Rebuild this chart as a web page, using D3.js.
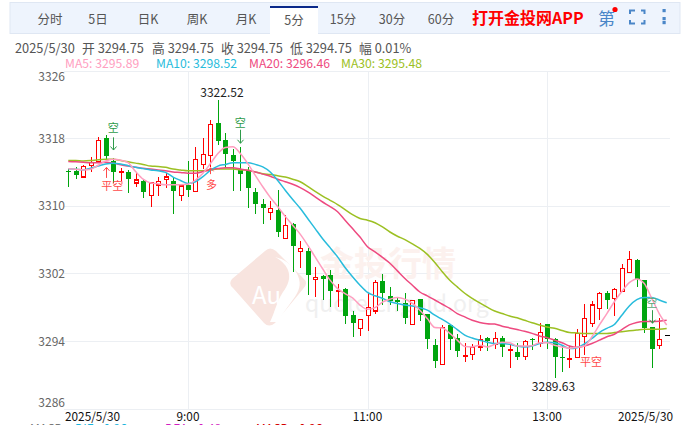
<!DOCTYPE html>
<html><head><meta charset="utf-8">
<style>html,body{margin:0;padding:0;background:#fff;overflow:hidden}svg{display:block}text{font-family:"Noto Sans CJK SC","Noto Sans",sans-serif}</style>
<script src="https://cdn.jsdelivr.net/npm/d3@7/dist/d3.min.js"></script>
</head><body><svg id="c" width="687" height="425"></svg>
<script>
const tabs=["分时","5日","日K","周K","月K","5分","15分","30分","60分"];
const yTicks=[3326,3318,3310,3302,3294,3286];
const xTickIndex=[0,16,40,64,79];
const xTickLabels=["2025/5/30","9:00","11:00","13:00","2025/5/30"];
const infoLabels=["2025/5/30","开 3294.75","高 3294.75","收 3294.75","低 3294.75","幅 0.01%"];
const maLabels=["MA5: 3295.89","MA10: 3298.52","MA20: 3296.46","MA30: 3295.48"];
const maColors=["#ff9ebf","#28bcdc","#ee4a80","#9cc023"];
const opens=[3314.17,3314.1,3313.4,3314.8,3315.24,3318,3315.35,3314.1,3314.0,3312.7,3312.9,3311.2,3312.45,3313.1,3312.9,3311.2,3312.5,3311.65,3314.9,3315.95,
3319.8,3317.75,3316,3314.3,3314.1,3311.6,3310.2,3309.2,3309.55,3306.1,3307.9,3304.55,3304.6,3301.25,3301.7,3301.8,3300,3300.2,3297.05,3295.5,
3297,3297.55,3301.1,3299.3,3298.9,3298.5,3295.95,3298.95,3297.15,3293.5,3291.25,3295.9,3294.35,3292.3,3292.4,3293.3,3294.35,3293.6,3294.4,3292.95,
3292.7,3292.15,3294.25,3293.7,3296,3294.2,3292.1,3291.95,3292,3294.5,3296.1,3297.85,3299.7,3299,3299.85,3302.1,3303.6,3301.2,3295.65,3293.5,3294.75];
const closes=[3314.0,3313.66,3314.65,3315.1,3317.76,3315.95,3314.05,3314.1,3313.2,3313.05,3311.65,3312.7,3312.9,3313.4,3311.8,3312.35,3311.9,3315.5,3316.1,3319.65,
3317.7,3316.1,3315.3,3313.8,3312.1,3310.25,3309.75,3309.65,3306.9,3307.65,3305.25,3304.95,3301.8,3301.5,3301.3,3299.9,3300,3297,3296.1,3296.55,
3297.95,3300.95,3299.65,3298.75,3298.6,3296.75,3298.75,3297.05,3294.2,3291.65,3295.6,3294.2,3292.8,3292.3,3293.2,3294.15,3293.95,3294.3,3293.3,3292.95,
3292.15,3293.95,3294.1,3295,3294.2,3292.05,3292.05,3291.95,3294.9,3296.65,3298.25,3299.65,3298.85,3300.1,3302.6,3303.65,3301.35,3295.55,3293.1,3294.2,3294.75];
const highs=[3314.3,3314.65,3314.8,3315.75,3318.1,3318.4,3315.6,3314.45,3314.25,3313.95,3313.15,3312.7,3313.4,3313.85,3313.4,3312.45,3315.25,3317,3318,3320.15,
3322.52,3318.65,3316.7,3317,3314.6,3312.1,3310.85,3310.6,3311.85,3308.9,3308,3305.8,3305.05,3302.8,3301.8,3302.4,3300.7,3300.3,3297.5,3296.6,
3299.7,3301.2,3301.9,3300.4,3299.15,3299.7,3298.9,3298.95,3297.15,3294.2,3295.9,3295.9,3294.8,3293.8,3293.7,3294.75,3294.45,3295.1,3294.55,3293.5,
3293.8,3294.1,3294.3,3296.1,3296,3294.3,3293.5,3293.4,3295.4,3298.4,3298.75,3299.75,3299.9,3300.3,3303.1,3304.65,3303.65,3301.2,3295.65,3296.75,3294.75];
const lows=[3312.2,3313.15,3313.4,3314.05,3315.2,3315.25,3312.7,3312.9,3311.55,3312.2,3310.9,3309.9,3311.2,3312.15,3309,3310.6,3311,3311.65,3314.4,3314.65,
3317.2,3314.6,3311.75,3311.75,3309.75,3309,3307.8,3308.3,3306.3,3306.1,3302.2,3302.65,3299.5,3299.15,3298.85,3298.05,3298.05,3296,3294.5,3294.6,
3295.2,3297.25,3298.25,3298.25,3297.55,3296.05,3295.95,3296.35,3293.1,3290.85,3291.15,3292.9,3292.1,3291.5,3291.7,3292.85,3292.8,3293.05,3292.1,3290.8,
3291.8,3291.8,3292.95,3293.3,3293.05,3289.63,3290.35,3290.75,3292,3292.35,3295.6,3296.5,3297.75,3296.95,3299.85,3302.1,3300.4,3294.9,3290.8,3293.1,3294.75];
const ma5=[3314.37,3314.33,3314.25,3314.33,3314.8,3315.3,3315.5,3315.4,3315.1,3314.05,3313.15,3312.7,3312.6,3312.5,3312.5,3312.5,3312.55,3313.05,3313.85,3315.0,
3316.2,3316.9,3317.0,3316.2,3315.0,3313.6,3312.25,3311.0,3309.9,3308.75,3307.7,3306.65,3305.35,3303.95,3302.55,3301.2,3300.2,3299.6,3299.1,3298.25,
3297.75,3297.95,3298.6,3298.95,3299.15,3298.95,3298.45,3297.65,3296.65,3295.6,3295.55,3294.9,3294.1,3293.35,3293.3,3293.5,3293.3,3293.6,3293.85,3293.8,
3293.4,3293.4,3293.45,3293.8,3293.8,3293.5,3293.3,3293.15,3293.25,3293.4,3294.5,3295.9,3297.25,3298.65,3299.85,3300.9,3301.35,3300.8,3299.05,3297.25,3295.89];
const ma10=[3314.37,3314.33,3314.25,3314.45,3314.7,3314.95,3315.05,3314.95,3314.75,3314.55,3314.4,3314.25,3314.15,3313.95,3313.4,3313,3312.65,3312.85,3313.45,3314.2,
3314.7,3314.9,3315.1,3315.1,3315.1,3314.9,3314.6,3314,3313,3311.85,3310.75,3309.7,3308.5,3307.3,3306.1,3305.05,3303.95,3302.7,3301.6,3300.6,
3299.75,3299.35,3299.05,3298.65,3298.45,3298.25,3298.15,3297.95,3297.65,3297.05,3296.55,3296,3295.35,3294.7,3294.35,3294.1,3293.85,3293.7,3293.7,3293.6,
3293.4,3293.3,3293.4,3293.7,3293.85,3293.8,3293.5,3293.1,3293.2,3293.65,3294.3,3295,3295.5,3295.95,3297.05,3298.15,3298.9,3299.15,3299.15,3298.85,3298.52];
const ma20=[3315.25,3315.2,3315.15,3315.1,3315.1,3315.15,3315.05,3314.85,3314.7,3314.55,3314.45,3314.35,3314.25,3314.15,3314,3313.95,3313.85,3313.85,3314.05,3314.3,
3314.4,3314.5,3314.5,3314.35,3314.2,3314,3313.75,3313.5,3313.15,3312.85,3312.55,3312.15,3311.65,3311.05,3310.45,3309.9,3309.3,3308.3,3307.3,3306.3,
3305.15,3304.55,3303.9,3303.2,3302.3,3301.4,3300.6,3299.8,3299.35,3298.85,3298.35,3297.85,3297.25,3296.85,3296.45,3296.2,3296.05,3296,3295.75,3295.55,
3295.35,3295.15,3294.9,3294.6,3294.4,3294.1,3293.8,3293.4,3293.25,3293.4,3293.7,3294.1,3294.5,3294.8,3295.35,3295.9,3296.2,3296.3,3296.3,3296.35,3296.46];
const ma30=[3315.35,3315.35,3315.3,3315.35,3315.45,3315.5,3315.5,3315.35,3315.2,3315.05,3314.9,3314.7,3314.65,3314.55,3314.35,3314.25,3314.15,3314.15,3314.15,3314.25,
3314.35,3314.35,3314.35,3314.25,3314.2,3314,3313.8,3313.7,3313.55,3313.4,3313.15,3312.85,3312.3,3311.7,3311.15,3310.65,3310.15,3309.55,3308.95,3308.5,
3308.3,3308,3307.5,3306.9,3306.4,3306,3305.5,3304.95,3304.25,3303.3,3302.2,3301.2,3300.4,3299.65,3299.05,3298.5,3298,3297.55,3297.25,3296.95,
3296.75,3296.45,3296.15,3295.9,3295.65,3295.5,3295.25,3295,3294.95,3294.9,3294.9,3294.9,3294.9,3295,3295.1,3295.2,3295.3,3295.4,3295.4,3295.4,3295.48];
const sigText=["空","平空","多","空","空","平空"];
const sigIndex=[6,6,19,23,78,70];
const sigPrice=[3318.7,3311.9,3312.0,3319.3,3297.97,3291.0];
const sigColor=["#2e9b4a","#ff4a4a","#ff4a4a","#2e9b4a","#5aa878","#ff4a4a"];
const arrowIndex=[6,5,19,23,78];
const arrowFrom=[3318.1,3313.3,3313.75,3319.0,3297.65];
const arrowTo=[3316.6,3314.55,3314.5,3317.4,3296.1];
const arrowColor=["#2e9b4a","#ff4a4a","#ff4a4a","#2e9b4a","#2e9b4a"];

const svg=d3.select("#c");
const x=d3.scaleLinear().domain([0,80]).range([68.3,666.7]);
const y=d3.scaleLinear().domain([3286,3326]).range([408.6,70.6]);
const n=opens.length, UP="#ff0000", DOWN="#00a50e";

// header
const tabX=[50,98,148,197,246,294,343,392,441];
svg.append("rect").attr("x",10).attr("y",2.5).attr("width",670).attr("height",31).attr("fill","#eef4fd").attr("stroke","#dfe7f3");
svg.append("rect").attr("x",270).attr("y",6).attr("width",48).attr("height",28).attr("fill","#fff");
svg.append("rect").attr("x",270).attr("y",6).attr("width",48).attr("height",2).attr("fill","#0b2a8a");
svg.selectAll("text.tab").data(tabs).join("text").attr("class","tab")
 .attr("x",(d,i)=>tabX[i]).attr("y",(d,i)=>i==5?25:24).attr("text-anchor","middle").attr("font-size",12.5).attr("fill","#555").text(d=>d);
svg.append("text").attr("x",472).attr("y",24).attr("font-size",16).attr("font-weight",700).attr("fill","#ff0000").text("打开金投网APP");
svg.append("text").attr("x",598).attr("y",25).attr("font-size",17).attr("fill","#4a86c8").text("第");
svg.append("circle").attr("cx",615).attr("cy",9.5).attr("r",2.6).attr("fill","#f00");
svg.append("path").attr("d","M630 14V10.5H635M641 10.5H644.5V14M644.5 20V23.5H641M635 23.5H630V20").attr("fill","none").attr("stroke","#4a86c8").attr("stroke-width",2);
[10.5,18.5,22.5].forEach(cy=>svg.append("rect").attr("x",662.5).attr("y",cy-1.5).attr("width",3.2).attr("height",3.2).attr("fill","#4a86c8"));
const infoX=[15,82,152,221,290,359];
svg.selectAll("text.info").data(infoLabels).join("text").attr("class","info")
 .attr("x",(d,i)=>infoX[i]).attr("y",53).attr("font-size",12.8).attr("fill","#555").text(d=>d);
const maX=[65,156,249,341];
svg.selectAll("text.ma").data(maLabels).join("text").attr("class","ma")
 .attr("x",(d,i)=>maX[i]).attr("y",68).attr("font-size",12.2).attr("fill",(d,i)=>maColors[i]).text(d=>d);

// grid
const gy=svg.append("g");
gy.selectAll("line").data(yTicks).join("line").attr("x1",64).attr("x2",670).attr("y1",d=>Math.round(y(d))+.5).attr("y2",d=>Math.round(y(d))+.5).attr("stroke","#eceff3");
const gx=svg.append("g");
gx.selectAll("line").data(xTickIndex.slice(1,4)).join("line").attr("x1",d=>Math.round(x(d))+.5).attr("x2",d=>Math.round(x(d))+.5).attr("y1",71).attr("y2",409).attr("stroke","#eceff3");

// watermark
const wm=svg.append("g");
wm.append("path").attr("d","M232 279Q228 284 233 288L264 323Q269 328 275 323L303 289Q309 283 303 278L276 251Q270 246 265 251Z").attr("fill","#f8e4df");
wm.append("path").attr("d","M275 257C290 265 294 278 283 292C276 303 275 312 270 322L279 322C288 300 308 292 296 272C291 264 284 259 275 257Z").attr("fill","#fff");
wm.append("text").attr("x",252).attr("y",304).attr("font-size",24).attr("fill","#fff").text("Au");
wm.append("text").attr("x",320).attr("y",276).attr("font-size",34).attr("font-weight",700).attr("fill","#fcf1ee").text("金投行情");
wm.append("text").attr("x",305).attr("y",312).attr("font-size",23).attr("fill","#f0f0f0").text("quote.cngold.org");

// y axis labels
svg.selectAll("text.yl").data(yTicks).join("text").attr("class","yl")
 .attr("x",65).attr("y",d=>d==3326?81:d==3286?407:y(d)+4.5).attr("text-anchor","end").attr("font-size",12).attr("fill","#666").text(d=>d);
// x axis labels
svg.selectAll("text.xl").data(xTickLabels).join("text").attr("class","xl")
 .attr("x",(d,i)=>i==0?65:i==4?618:x(xTickIndex[i])).attr("y",421).attr("text-anchor",(d,i)=>(i==0||i==4)?"start":"middle")
 .attr("font-size",11.8).attr("fill","#111").text(d=>d);

// candles
const idx=d3.range(n);
const col=i=>i==n-1?"#000":(closes[i]>=opens[i]?UP:DOWN);
const g=svg.append("g").attr("shape-rendering","crispEdges");
g.selectAll("line").data(idx).join("line")
 .attr("x1",i=>Math.round(x(i))+.5).attr("x2",i=>Math.round(x(i))+.5)
 .attr("y1",i=>y(highs[i])).attr("y2",i=>y(lows[i])).attr("stroke",col).attr("stroke-width",1.1);
g.selectAll("rect").data(idx).join("rect")
 .attr("x",i=>Math.round(x(i))-2+.5-(col(i)==UP?0:.5)).attr("width",i=>col(i)==UP?4:5)
 .attr("y",i=>y(Math.max(opens[i],closes[i]))).attr("height",i=>Math.max(1,Math.abs(y(opens[i])-y(closes[i]))))
 .attr("fill",i=>col(i)==UP?"#fff":col(i)).attr("stroke",i=>col(i)==UP?UP:"none").attr("stroke-width",1.2);

// MA lines
const line=d3.line().x((d,i)=>x(i)).y(d=>y(d)).curve(d3.curveMonotoneX);
[ma30,ma20,ma10,ma5].forEach((s,k)=>{
 svg.append("path").attr("d",line(s)).attr("fill","none").attr("stroke",maColors[3-k]).attr("stroke-width",1.5);
});

// extreme labels
svg.append("text").attr("x",x(20)+4).attr("y",y(3322.52)-3).attr("text-anchor","middle").attr("font-size",12).attr("fill","#222").text("3322.52");
svg.append("text").attr("x",x(65)-1).attr("y",y(3289.63)+13).attr("text-anchor","middle").attr("font-size",12).attr("fill","#222").text("3289.63");

// signals
svg.selectAll("text.sg").data(sigText).join("text").attr("class","sg")
 .attr("x",(d,i)=>x(sigIndex[i])+(d=="平空"?-1:0)+(i==2?1:0)).attr("y",(d,i)=>y(sigPrice[i])).attr("text-anchor","middle")
 .attr("font-size",11).attr("fill",(d,i)=>sigColor[i]).text(d=>d);
arrowIndex.forEach((k,i)=>{
 const X=Math.round(x(k))+.5,y1=y(arrowFrom[i]),y2=y(arrowTo[i]),dir=y2>y1?-1:1;
 svg.append("path").attr("d",`M${X} ${y1}L${X} ${y2}M${X-3} ${y2+dir*3.5}L${X} ${y2}L${X+3} ${y2+dir*3.5}`)
  .attr("fill","none").attr("stroke",arrowColor[i]).attr("stroke-width",1);
});

// cropped bottom row
const botLabels=["MACD","DIF: -0.96","DEA: -0.48","MACD: -0.96"], botX=[30,75,165,256], botC=["#777","#18b4dc","#d21fc0","#d40000"];
svg.selectAll("text.b").data(botLabels).join("text").attr("class","b").attr("x",(d,i)=>botX[i]).attr("y",433).attr("font-size",12).attr("fill",(d,i)=>botC[i]).text(d=>d);
</script></body></html>
